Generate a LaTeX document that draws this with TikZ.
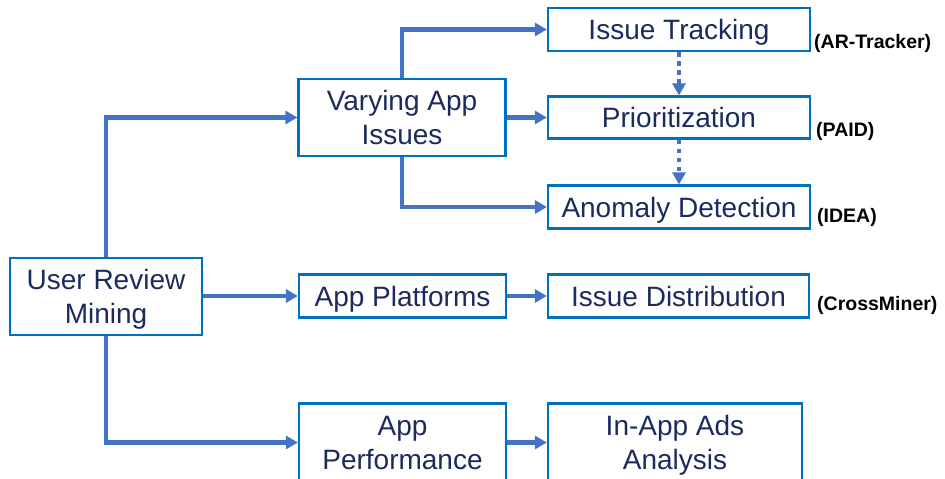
\documentclass[tikz,border=0pt]{standalone}
\usepackage{fontspec}
\setmainfont{Liberation Sans}
\usetikzlibrary{arrows.meta}
\definecolor{boxblue}{HTML}{0070C0}
\definecolor{linkblue}{HTML}{4472C4}
\definecolor{textnavy}{HTML}{1C2B5E}
\tikzset{
  stepbox/.style={draw=boxblue, line width=2.2pt, fill=white, text=textnavy,
    align=center, inner sep=0pt, font=\fontsize{28}{34}\selectfont},
  onebox/.style={stepbox, text height=20pt, text depth=0pt},
  twobox/.style={stepbox, text height=54pt, text depth=0pt},
  link/.style={draw=linkblue, line width=4.5pt, -{Triangle[length=12pt,width=13pt]}},
  dotlink/.style={link, dash pattern=on 4.5pt off 4.5pt},
  tag/.style={anchor=base west, inner sep=0pt, text=black,
    font=\bfseries\fontsize{19.5}{23}\selectfont}
}
\begin{document}
\begin{tikzpicture}[x=1pt, y=-1pt]
  \useasboundingbox (0,0) rectangle (945,479);
  \clip (0,0) rectangle (945,479);

  % boxes
  \node[twobox, minimum width=192pt, minimum height=77pt] (urm) at (106,296.5) {User Review\\Mining};
  \node[twobox, minimum width=207pt, minimum height=77pt] (vai) at (402,117.5) {Varying App\\Issues};
  \node[onebox, minimum width=262pt, minimum height=43pt] (it) at (679,29.5) {Issue Tracking};
  \node[onebox, minimum width=262pt, minimum height=42pt] (pr) at (679,117.5) {Prioritization};
  \node[onebox, minimum width=262pt, minimum height=43pt] (ad) at (679,207) {Anomaly Detection};
  \node[onebox, minimum width=207pt, minimum height=43pt] (ap) at (402.5,296) {App Platforms};
  \node[onebox, minimum width=261pt, minimum height=43pt] (id) at (678.5,296) {Issue Distribution};
  \node[twobox, minimum width=207pt, minimum height=78pt] (aperf) at (402.5,442.5) {App\\Performance};
  \node[twobox, minimum width=254pt, minimum height=78pt] (ads) at (675,442.5) {In-App Ads\\Analysis};

  % tool names
  \node[tag] (t1) at (814,48) {(AR-Tracker)};
  \node[tag] (t2) at (816,136) {(PAID)};
  \node[tag] (t3) at (817,222) {(IDEA)};
  \node[tag] (t4) at (817,310) {(CrossMiner)};

  % connectors
  \draw[link] (urm.north) |- (vai.west);
  \draw[link] (urm.east |- ap.west) -- (ap.west);
  \draw[link] (urm.south) |- (aperf.west);
  \draw[link] (vai.north) |- (it.west);
  \draw[link] (vai.east) -- (pr.west);
  \draw[link] (vai.south) |- (ad.west);
  \draw[link] (ap.east) -- (id.west);
  \draw[link] (aperf.east) -- (ads.west);
  \draw[dotlink] (it.south) -- (pr.north);
  \draw[dotlink] (pr.south) -- (ad.north);
\end{tikzpicture}
\end{document}
